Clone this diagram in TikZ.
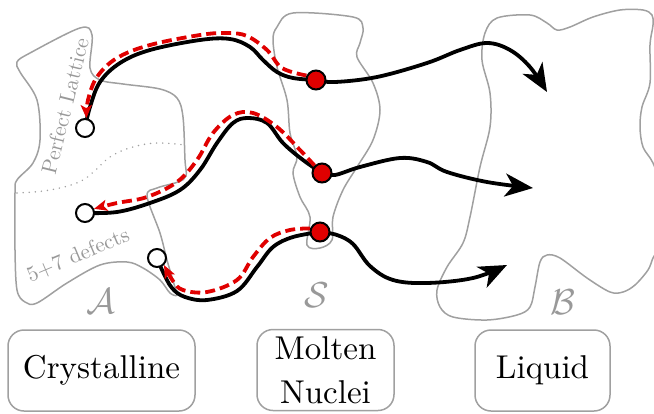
\documentclass[tikz,border=0pt]{standalone}
\usepackage{fontspec}
\setmainfont{lmroman10-regular.otf}[BoldFont=lmroman10-bold.otf,ItalicFont=lmroman10-italic.otf]
\usetikzlibrary{arrows.meta,backgrounds}
\definecolor{outl}{HTML}{A0A0A0}
\definecolor{lbl}{HTML}{999999}
\definecolor{trred}{HTML}{E00000}
\newcommand{\reglabel}[1]{\scalebox{1.45}{\fontsize{24.88}{30}\selectfont$\mathcal{#1}$}}
\begin{document}
\begin{tikzpicture}[x=1pt,y=-1pt,
  region/.style={draw=outl,line width=1.5pt},
  traj/.style={draw=black,line width=3.8pt},
  back/.style={draw=trred,line width=3.8pt,dash pattern=on 10pt off 5pt,-{Stealth[length=13pt,width=11pt,inset=3pt]}},
  fwd/.style={traj,-{Stealth[length=28pt,width=23pt,inset=8pt]}},
  wstate/.style={circle,draw=black,fill=white,line width=2pt,minimum size=18pt,inner sep=0pt},
  rstate/.style={circle,draw=black,fill=trred,line width=2pt,minimum size=19pt,inner sep=0pt},
  phase/.style={draw=outl,line width=1.5pt,rounded corners=16pt,minimum height=81pt,align=center,inner sep=0pt,font=\fontsize{33}{44}\selectfont},
  reglbl/.style={text=lbl},
  small/.style={text=lbl,font=\fontsize{21.5}{24}\selectfont}
]
\useasboundingbox (0,0) rectangle (654,413);

% states
\node[wstate] (w1) at (85,128) {};
\node[wstate] (w2) at (85,213) {};
\node[wstate] (w3) at (157,258) {};
\node[rstate] (r1) at (316,80) {};
\node[rstate] (r2) at (322,173) {};
\node[rstate] (r3) at (320,232) {};
\coordinate (e1) at (547,92);
\coordinate (e2) at (533,188);
\coordinate (e3) at (507,265);

\begin{scope}[on background layer]
% region A
\draw[region] plot[smooth cycle,tension=0.55] coordinates {
 (17,62) (30,53) (80,28) (92,35) (90,68) (100,80) (123,84) (160,89) (177,98) (183,117)
 (185,160) (186,176) (178,182) (157,188) (147,196) (160,233) (167,260) (174,284) (177,295)
 (170,293) (160,280) (143,268) (127,262) (100,265) (67,283) (37,303) (25,302) (17,290)
 (15,250) (15,193) (17,180) (33,163) (40,140) (37,100) (20,72)};
% region S
\draw[region] plot[smooth cycle,tension=0.55] coordinates {
 (277,27) (293,13) (353,17) (363,28) (360,43) (357,57) (373,83) (380,110) (373,140)
 (357,167) (343,190) (333,217) (332,240) (320,248) (307,245) (310,217) (300,197)
 (293,173) (297,157) (290,133) (287,100) (277,67) (273,40)};
% region B
\begin{scope}
\clip (0,0) rectangle (654,413);
\draw[region] plot[smooth cycle,tension=0.55] coordinates {
 (485,33) (497,18) (530,15) (547,23) (557,30) (570,27) (593,17) (620,10) (643,10)
 (652,15) (653,25) (650,45) (650,83) (642,107) (640,127) (643,147) (653,163) (662,190)
 (664,220) (660,245) (653,258) (648,270) (635,285) (623,292) (610,292) (587,278)
 (560,258) (547,255) (540,262) (535,287) (530,307) (517,315) (487,320) (453,317)
 (440,307) (437,290) (447,267) (463,243) (470,217) (480,167) (490,127) (490,93) (482,60)};
\end{scope}
% boundary inside A
\draw[outl,line width=1.6pt,dash pattern=on 0.1pt off 6pt,line cap=round] plot[smooth,tension=0.6] coordinates {
 (17,193) (50,190) (83,180) (110,157) (133,147) (157,143) (185,145)};
\node[small,rotate=76] (pl) at (65,106) {Perfect Lattice};
\node[small,rotate=23] (df) at (78,255) {5+7 defects};

% trajectories
\draw[traj] plot[smooth,tension=0.6] coordinates {
 (w1.center) (90,107) (100,82) (120,63) (150,50) (200,40) (230,39) (250,47) (263,60) (277,72) (293,78) (r1.center)};
\draw[fwd] plot[smooth,tension=0.6] coordinates {
 (r1.center) (335,82) (377,77) (427,63) (460,50) (487,43) (510,50) (530,67) (e1)};
\draw[traj] plot[smooth,tension=0.6] coordinates {
 (w2.center) (117,212) (150,203) (180,190) (200,170) (217,143) (233,123) (248,118) (267,123) (283,143) (303,160) (r2.center)};
\draw[fwd] plot[smooth,tension=0.6] coordinates {
 (r2.center) (335,175) (360,167) (400,158) (427,162) (447,172) (487,182) (e2)};
\draw[traj] plot[smooth,tension=0.6] coordinates {
 (w3.center) (163,272) (172,288) (185,297) (207,300) (237,291) (257,267) (273,247) (293,237) (r3.center)};
\draw[fwd] plot[smooth,tension=0.6] coordinates {
 (r3.center) (337,235) (353,244) (370,266) (393,280) (427,283) (473,278) (e3)};

\draw[back] plot[smooth,tension=0.6] coordinates {
 (r1.155) (282,68) (267,50) (247,36) (227,33) (200,35) (150,45) (117,58) (97,77) (88,100) (w1.82)};
\draw[back] plot[smooth,tension=0.6] coordinates {
 (r2.135) (300,150) (277,127) (253,113) (233,115) (213,133) (197,160) (177,182) (147,197) (117,203) (w2.25)};
\draw[back] plot[smooth,tension=0.6] coordinates {
 (r3.160) (290,230) (270,238) (253,257) (237,280) (207,292) (183,290) (173,281) (w3.-45)};
\end{scope}

% region labels
\node[reglbl] (la) at (101,301) {\reglabel{A}};
\node[reglbl] (ls) at (317,295) {\reglabel{S}};
\node[reglbl] (lb) at (563,302) {\reglabel{B}};

% phase boxes
\node[phase,minimum width=187pt] (cr) at (101.5,370.5) {Crystalline};
\node[phase,minimum width=137pt] (mn) at (325.5,370) {Molten\\Nuclei};
\node[phase,minimum width=135pt] (lq) at (542.5,370.5) {Liquid};
\end{tikzpicture}
\end{document}
